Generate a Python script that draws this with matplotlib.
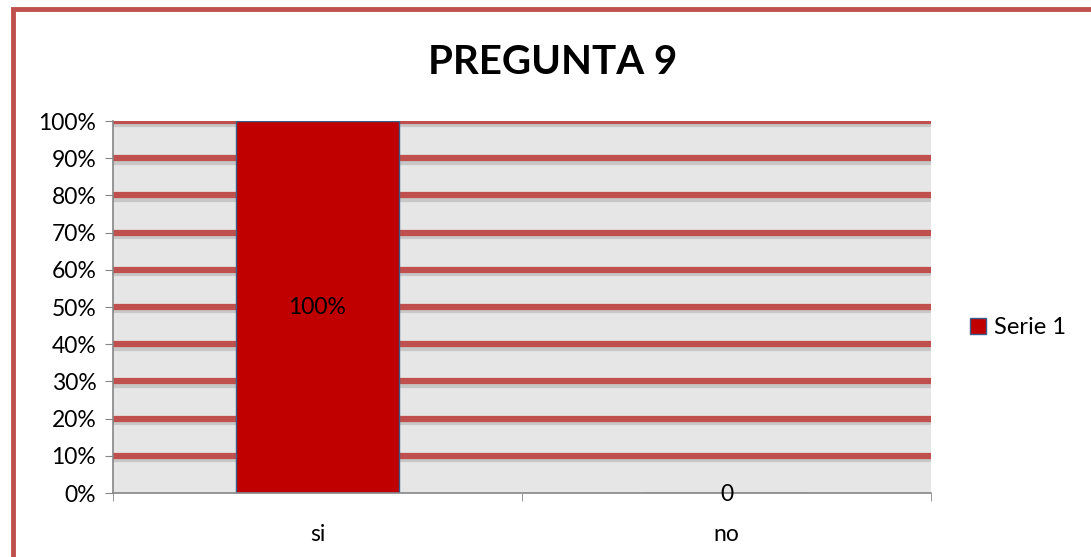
import numpy as np
import matplotlib.pyplot as plt
import matplotlib.patheffects as pe
from matplotlib.patches import Rectangle
from matplotlib.ticker import PercentFormatter

# datos del grafico
categorias = ["si", "no"]
valores = [1.0, 0.0]
etiquetas = ["100%", "0"]
serie = "Serie 1"

rojo = "#C00000"
borde = "#385D8A"
rojo_linea = "#C0504D"
gris = "#E6E6E6"

plt.rcParams["font.family"] = ["Lato", "DejaVu Sans"]

fig = plt.figure(figsize=(10.91, 5.57), dpi=100)
ax = fig.add_axes([113/1091, 1-493/557, 818/1091, 372/557])

# marco exterior
fig.patches.append(Rectangle((13/1091, -0.1), 1.2, 1-9/557+0.1, transform=fig.transFigure,
                             fill=False, edgecolor=rojo_linea, linewidth=3.5, clip_on=False))

x = np.arange(len(categorias))
ax.set_facecolor(gris)
barras = ax.bar(x, valores, width=0.4, color=rojo, edgecolor=borde, linewidth=1.0,
                zorder=3, label=serie)

for yv in np.arange(0.1, 1.01, 0.1):
    ax.axhline(yv, color=rojo_linea, linewidth=4.5, zorder=2,
               path_effects=[pe.SimpleLineShadow(offset=(0, -2.5), shadow_color="gray", alpha=0.3),
                             pe.Normal()])

ax.set_xlim(-0.5, 1.5)
ax.set_ylim(0, 1)
ax.yaxis.set_major_formatter(PercentFormatter(1.0, decimals=0))
ax.set_yticks(np.arange(0, 1.01, 0.1))
ax.set_xticks(x)
ax.set_xticklabels(categorias)
ax.set_xticks([-0.5, 0.5, 1.5], minor=True)
ax.tick_params(axis="x", which="major", length=0, pad=22, labelsize=16.5)
ax.tick_params(axis="x", which="minor", length=6, color="#868686", direction="out")
ax.tick_params(axis="y", length=6, color="#868686", labelsize=16.5, pad=6)
for s in ["top", "right"]:
    ax.spines[s].set_visible(False)
for s in ["left", "bottom"]:
    ax.spines[s].set_color("#868686")
    ax.spines[s].set_linewidth(1.2)
    ax.spines[s].set_zorder(4)

ax.text(x[0], 0.5, etiquetas[0], ha="center", va="center", fontsize=16.5, zorder=5)
ax.text(x[1], valores[1] - 0.005, etiquetas[1], ha="center", va="center", fontsize=16.5, zorder=5)

fig.text(553/1091, 1-62/557, "PREGUNTA 9", ha="center", va="center", fontsize=29, fontweight="bold")

ax.legend(loc="center left", bbox_to_anchor=(1.022, 0.445), frameon=False, fontsize=17,
          handlelength=0.65, handleheight=0.65, handletextpad=0.35)

fig.savefig("out.png", dpi=100)
